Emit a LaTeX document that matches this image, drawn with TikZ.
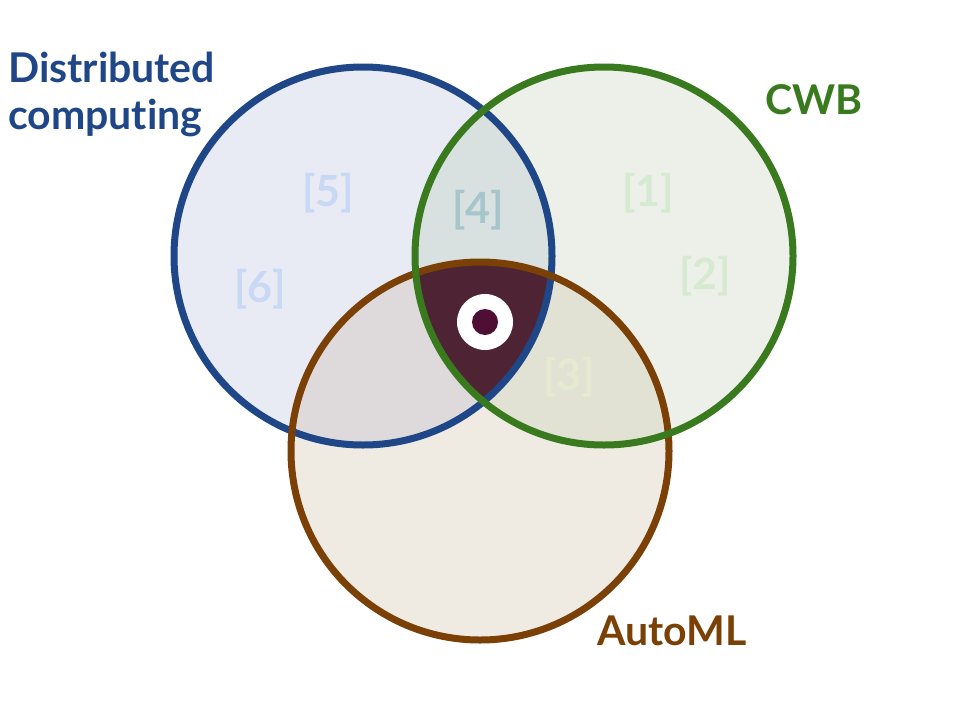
\documentclass[tikz,border=0pt]{standalone}
\usepackage{fontspec}
\setmainfont[Ligatures=NoCommon]{Lato}
\definecolor{bluec}{HTML}{1F4788}
\definecolor{greenc}{HTML}{3A7A1F}
\definecolor{brownc}{HTML}{7A4005}
\definecolor{bluef}{HTML}{E8EBF4}
\definecolor{greenf}{HTML}{EDF0E8}
\definecolor{brownf}{HTML}{EFEBE3}
\definecolor{bgf}{HTML}{D9E0E0}
\definecolor{brf}{HTML}{DEDADC}
\definecolor{grf}{HTML}{E1E2D4}
\definecolor{trif}{HTML}{4E2434}
\definecolor{dotc}{HTML}{4F0F35}
\definecolor{lblue}{HTML}{C8D8F5}
\definecolor{lgreen}{HTML}{D5EAD0}
\definecolor{lteal}{HTML}{A6C6CC}
\definecolor{lyel}{HTML}{E5EAD0}
\tikzset{
  ring/.style={line width=7pt},
  ref/.style={font=\fontsize{43}{43}\selectfont\bfseries},
  title/.style={font=\fontsize{41}{47}\selectfont\bfseries, align=left},
}
\begin{document}
\begin{tikzpicture}[x=1pt,y=-1pt]
\useasboundingbox (0,0) rectangle (960,720);
\fill[white] (0,0) rectangle (960,720);
\def\R{189}
\coordinate (cb) at (363,256);
\coordinate (cg) at (604,256);
\coordinate (cr) at (480,451);
% fills
\fill[bluef] (cb) circle (\R);
\fill[greenf] (cg) circle (\R);
\fill[brownf] (cr) circle (\R);
\begin{scope}
  \clip (cb) circle (\R);
  \fill[bgf] (cg) circle (\R);
  \fill[brf] (cr) circle (\R);
\end{scope}
\begin{scope}
  \clip (cg) circle (\R);
  \fill[grf] (cr) circle (\R);
  \clip (cr) circle (\R);
  \fill[trif] (cb) circle (\R);
\end{scope}
% labels
\node[ref, text=lblue] (l5) at (328,193) {[5]};
\node[ref, text=lblue] (l6) at (260,289) {[6]};
\node[ref, text=lteal] (l4) at (478,210) {[4]};
\node[ref, text=lgreen] (l1) at (648,193) {[1]};
\node[ref, text=lgreen] (l2) at (705,276) {[2]};
\node[ref, text=lyel] (l3) at (569,377) {[3]};
% strokes
\draw[ring, bluec] (cb) circle (\R);
\draw[ring, brownc] (cr) circle (\R);
\draw[ring, greenc] (cg) circle (\R);
% marker
\fill[white] (485,322) circle (28);
\fill[dotc] (485,322) circle (13);
% titles
\node[title, text=bluec, anchor=north west, inner sep=0pt] (dc) at (8,52) {Distributed\\computing};
\node[title, text=greenc, anchor=center] (cwb) at (814,100) {CWB};
\node[title, text=brownc, anchor=center] (aml) at (672,631) {AutoML};
\end{tikzpicture}
\end{document}
